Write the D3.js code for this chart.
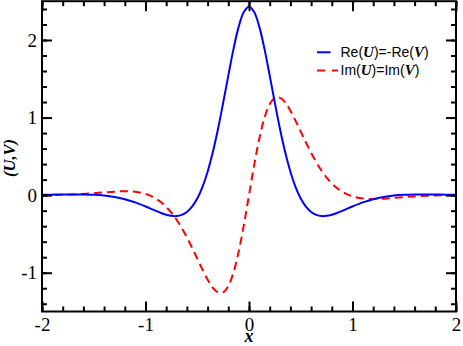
<!DOCTYPE html>
<html><head><meta charset="utf-8">
<script src="https://cdn.jsdelivr.net/npm/d3@7"></script>
<style>
html,body{margin:0;padding:0;background:#fff;}
svg{display:block;}
</style></head>
<body>
<svg id="chart" width="463" height="346"></svg>
<script>
// ---- data ----
const xValues = [-2.0,-1.9,-1.8,-1.7,-1.6,-1.5,-1.4,-1.3,-1.2,-1.1,-1.0,
  -0.95,-0.9,-0.85,-0.8,-0.75,-0.7,-0.65,-0.6,-0.55,-0.5,-0.45,-0.4,-0.35,-0.3,-0.25,-0.2,-0.15,-0.1,-0.05,
  0,
  0.05,0.1,0.15,0.2,0.25,0.3,0.35,0.4,0.45,0.5,0.55,0.6,0.65,0.7,0.75,0.8,0.85,0.9,0.95,
  1.0,1.1,1.2,1.3,1.4,1.5,1.6,1.7,1.8,1.9,2.0];
const reValues = [0.004,0.006,0.008,0.009,0.008,0.004,-0.006,-0.024,-0.053,-0.094,-0.146,
  -0.174,-0.203,-0.230,-0.252,-0.267,-0.270,-0.255,-0.217,-0.149,-0.044,0.104,0.302,0.552,0.850,1.187,1.541,1.882,2.169,2.362,
  2.430,
  2.362,2.169,1.882,1.541,1.187,0.850,0.552,0.302,0.104,-0.044,-0.149,-0.217,-0.255,-0.270,-0.267,-0.252,-0.230,-0.203,-0.174,
  -0.146,-0.094,-0.053,-0.024,-0.006,0.004,0.008,0.009,0.008,0.006,0.004];
const imValues = [-0.001,0.001,0.004,0.009,0.016,0.025,0.036,0.045,0.050,0.043,0.016,
  -0.009,-0.045,-0.091,-0.152,-0.227,-0.317,-0.424,-0.545,-0.678,-0.819,-0.958,-1.089,-1.194,-1.254,-1.253,-1.172,-0.998,-0.731,-0.387,
  0,
  0.387,0.731,0.998,1.172,1.253,1.254,1.194,1.089,0.958,0.819,0.678,0.545,0.424,0.317,0.227,0.152,0.091,0.045,0.009,
  -0.016,-0.043,-0.050,-0.045,-0.036,-0.025,-0.016,-0.009,-0.004,-0.001,0.001];
const xTicks = [-2,-1,0,1,2];
const xTickLabels = ["-2","-1","0","1","2"];
const yTicks = [-1,0,1,2];
const yTickLabels = ["-1","0","1","2"];
const xMinorTicks = d3.range(-2,2.001,0.2).map(v=>+v.toFixed(2));
const yMinorTicks = d3.range(-1.4,2.401,0.2).map(v=>+v.toFixed(2));

// ---- layout ----
const svg = d3.select("#chart");
const L = 42, R = 456, T = 1.2, B = 311.5;
const x = d3.scaleLinear().domain([-2,2]).range([L,R]);
const y = d3.scaleLinear().domain([-1.5,2.5]).range([B,T]);
const serif = "'Liberation Serif','Times New Roman',serif";
const sans = "'Liberation Sans',Arial,sans-serif";

// curves
const pts = xValues.map((v,i)=>({x:v, re:reValues[i], im:imValues[i]}));
svg.append("clipPath").attr("id","clip").append("rect")
  .attr("x",L).attr("y",T).attr("width",R-L).attr("height",B-T);
const line = key => d3.line().x(d=>x(d.x)).y(d=>y(d[key])).curve(d3.curveCatmullRom.alpha(0.5));
const plot = svg.append("g").attr("clip-path","url(#clip)");
plot.append("path").datum(pts).attr("d",line("im")).attr("fill","none")
  .attr("stroke","#ff0000").attr("stroke-width",2).attr("stroke-dasharray","8,5");
plot.append("path").datum(pts).attr("d",line("re")).attr("fill","none")
  .attr("stroke","#0000ff").attr("stroke-width",2);

// axes (ticks pointing inward, on all four sides)
function styleAxis(g){
  g.select(".domain").remove();
  g.selectAll(".tick line").attr("stroke","#000").attr("stroke-width",2);
  g.selectAll("text").attr("font-family",serif).attr("font-size",19).attr("fill","#000");
}
svg.append("g").attr("transform",`translate(0,${B})`)
  .call(d3.axisBottom(x).tickValues(xMinorTicks).tickSize(-5).tickFormat("")).call(styleAxis);
svg.append("g").attr("transform",`translate(0,${B})`)
  .call(d3.axisBottom(x).tickValues(xTicks).tickSize(-10).tickPadding(6)
    .tickFormat((d,i)=>xTickLabels[i])).call(styleAxis);
svg.append("g").attr("transform",`translate(0,${T})`)
  .call(d3.axisTop(x).tickValues(xMinorTicks).tickSize(-5).tickFormat("")).call(styleAxis);
svg.append("g").attr("transform",`translate(0,${T})`)
  .call(d3.axisTop(x).tickValues(xTicks).tickSize(-10).tickFormat("")).call(styleAxis);
svg.append("g").attr("transform",`translate(${L},0)`)
  .call(d3.axisLeft(y).tickValues(yMinorTicks).tickSize(-5).tickFormat("")).call(styleAxis);
svg.append("g").attr("transform",`translate(${L},0)`)
  .call(d3.axisLeft(y).tickValues(yTicks).tickSize(-10).tickPadding(5)
    .tickFormat((d,i)=>yTickLabels[i])).call(styleAxis);
svg.append("g").attr("transform",`translate(${R},0)`)
  .call(d3.axisRight(y).tickValues(yMinorTicks).tickSize(-5).tickFormat("")).call(styleAxis);
svg.append("g").attr("transform",`translate(${R},0)`)
  .call(d3.axisRight(y).tickValues(yTicks).tickSize(-10).tickFormat("")).call(styleAxis);

// frame
svg.append("rect").attr("x",L).attr("y",T).attr("width",R-L).attr("height",B-T)
  .attr("fill","none").attr("stroke","#000").attr("stroke-width",2);

// axis titles
svg.append("text").attr("x",x(0)).attr("y",342).attr("text-anchor","middle")
  .attr("font-family",serif).attr("font-size",18).attr("font-weight","bold").attr("font-style","italic")
  .text("x");
svg.append("text").attr("transform","translate(14.7,158) rotate(-90)").attr("text-anchor","middle")
  .attr("font-family",serif).attr("font-size",16.5).attr("font-weight","bold").attr("font-style","italic")
  .text("(U,V)");

// legend
const legend = [
  {color:"#0000ff", dash:null, x2:330.5, parts:[["Re(",0],["U",1],[")=-Re(",0],["V",1],[")",0]]},
  {color:"#ff0000", dash:"8,7", x2:338, parts:[["Im(",0],["U",1],[")=Im(",0],["V",1],[")",0]]}
];
legend.forEach((d,i)=>{
  const yy = 52.3 + i*18.3;
  svg.append("line").attr("x1",317).attr("x2",d.x2).attr("y1",yy).attr("y2",yy)
    .attr("stroke",d.color).attr("stroke-width",2).attr("stroke-dasharray",d.dash);
  const t = svg.append("text").attr("x",340.5).attr("y",yy+4.6)
    .attr("font-family",sans).attr("font-size",14).attr("fill","#000");
  d.parts.forEach(([s,em])=>{
    const ts = t.append("tspan").text(s);
    if(em) ts.attr("font-family",serif).attr("font-weight","bold").attr("font-style","italic").attr("font-size",15);
  });
});
</script>
</body></html>
